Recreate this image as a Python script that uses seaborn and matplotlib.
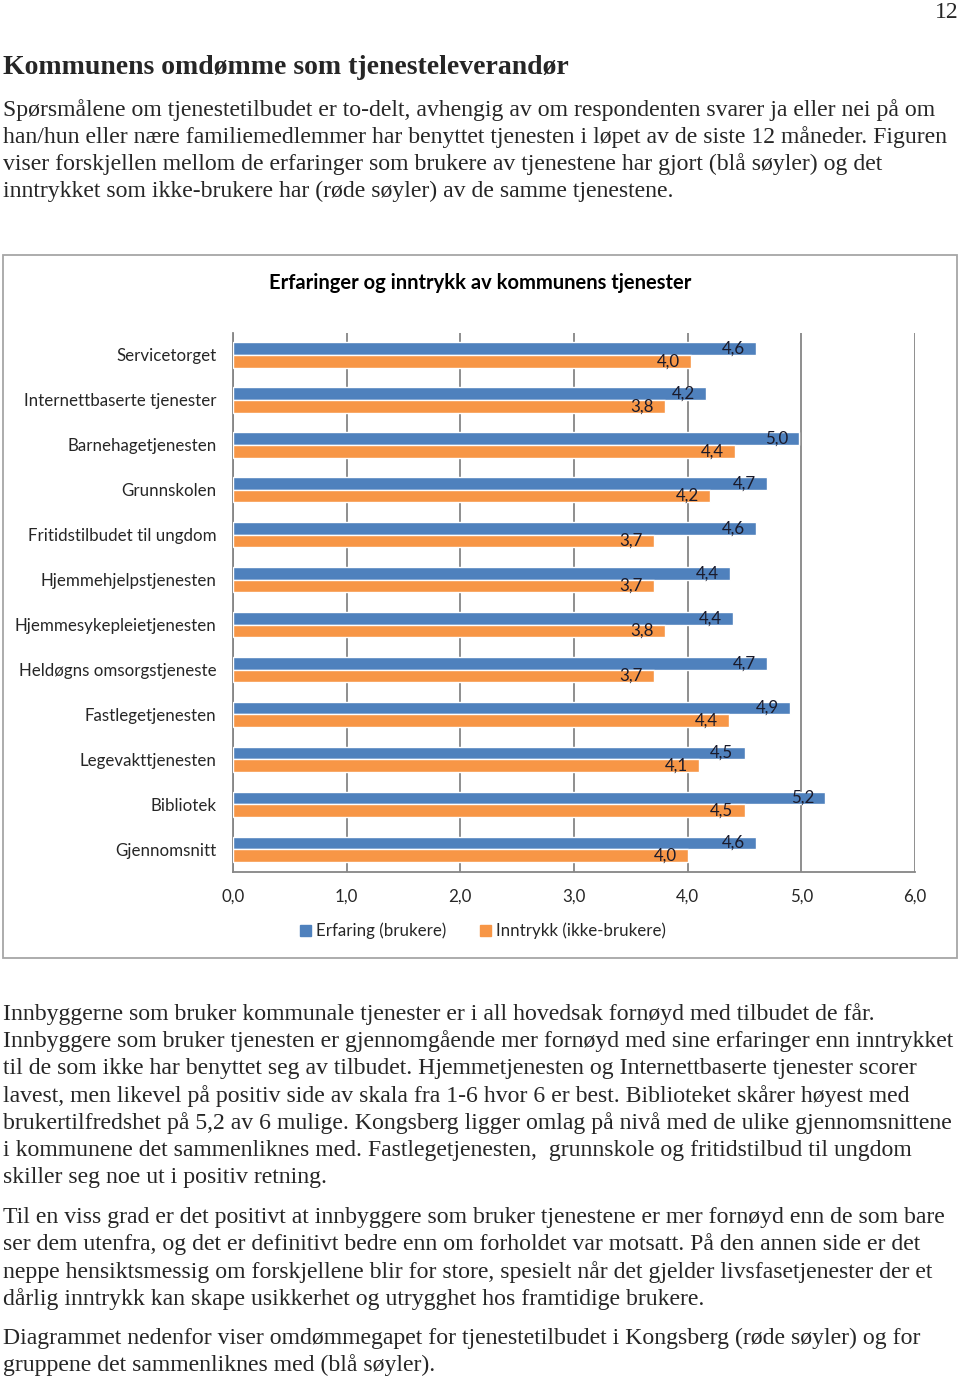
import numpy as np
import pandas as pd
import matplotlib.pyplot as plt
import seaborn as sns
from matplotlib.patches import Rectangle, Patch

# Data
tjenester = ["Servicetorget", "Internettbaserte tjenester", "Barnehagetjenesten",
             "Grunnskolen", "Fritidstilbudet til ungdom", "Hjemmehjelpstjenesten",
             "Hjemmesykepleietjenesten", "Heldøgns omsorgstjeneste", "Fastlegetjenesten",
             "Legevakttjenesten", "Bibliotek", "Gjennomsnitt"]
erfaring = [4.60, 4.16, 4.98, 4.70, 4.60, 4.37, 4.40, 4.70, 4.90, 4.50, 5.21, 4.60]
inntrykk = [4.03, 3.80, 4.42, 4.20, 3.70, 3.70, 3.80, 3.70, 4.36, 4.10, 4.50, 4.00]
serier = ["Erfaring (brukere)", "Inntrykk (ikke-brukere)"]
farger = ["#4F81BD", "#F79646"]
xticks = [0, 1, 2, 3, 4, 5, 6]

tittel = "Erfaringer og inntrykk av kommunens tjenester"
overskrift = "Kommunens omdømme som tjenesteleverandør"
tekst_topp = [
    "Spørsmålene om tjenestetilbudet er to-delt, avhengig av om respondenten svarer ja eller nei på om",
    "han/hun eller nære familiemedlemmer har benyttet tjenesten i løpet av de siste 12 måneder. Figuren",
    "viser forskjellen mellom de erfaringer som brukere av tjenestene har gjort (blå søyler) og det",
    "inntrykket som ikke-brukere har (røde søyler) av de samme tjenestene.",
]
tekst_bunn = [
    ["Innbyggerne som bruker kommunale tjenester er i all hovedsak fornøyd med tilbudet de får.",
     "Innbyggere som bruker tjenesten er gjennomgående mer fornøyd med sine erfaringer enn inntrykket",
     "til de som ikke har benyttet seg av tilbudet. Hjemmetjenesten og Internettbaserte tjenester scorer",
     "lavest, men likevel på positiv side av skala fra 1-6 hvor 6 er best. Biblioteket skårer høyest med",
     "brukertilfredshet på 5,2 av 6 mulige. Kongsberg ligger omlag på nivå med de ulike gjennomsnittene",
     "i kommunene det sammenliknes med. Fastlegetjenesten,  grunnskole og fritidstilbud til ungdom",
     "skiller seg noe ut i positiv retning."],
    ["Til en viss grad er det positivt at innbyggere som bruker tjenestene er mer fornøyd enn de som bare",
     "ser dem utenfra, og det er definitivt bedre enn om forholdet var motsatt. På den annen side er det",
     "neppe hensiktsmessig om forskjellene blir for store, spesielt når det gjelder livsfasetjenester der et",
     "dårlig inntrykk kan skape usikkerhet og utrygghet hos framtidige brukere."],
    ["Diagrammet nedenfor viser omdømmegapet for tjenestetilbudet i Kongsberg (røde søyler) og for",
     "gruppene det sammenliknes med (blå søyler)."],
]

df = pd.DataFrame({
    "tjeneste": tjenester * 2,
    "verdi": erfaring + inntrykk,
    "serie": [serier[0]] * len(tjenester) + [serier[1]] * len(tjenester),
})

sns.set_theme(style="white")
plt.rcParams["font.family"] = ["Lato", "DejaVu Sans"]

W, H = 960, 1379
fig = plt.figure(figsize=(W / 100, H / 100), dpi=100)

def fx(px):
    return px / W

def fy(py):
    return 1 - py / H

# chart frame
fig.patches.append(Rectangle((fx(3), fy(958)), fx(954), 703 / H, transform=fig.transFigure,
                             fill=False, edgecolor="#A6A6A6", linewidth=1.3))

ax = fig.add_axes([fx(233), fy(871.7), fx(682), 539.2 / H])
sns.barplot(data=df, y="tjeneste", x="verdi", hue="serie", palette=farger, orient="h",
            width=0.565, gap=0, saturation=1, legend=False, ax=ax, zorder=3)

ax.set_xlim(0, 6)
ax.set_ylim(len(tjenester) - 0.5, -0.5)
ax.set_xticks(xticks)
ax.set_xticklabels([f"{t:.1f}".replace(".", ",") for t in xticks], fontsize=12.2)
ax.set_yticks(np.arange(len(tjenester)))
ax.set_yticklabels(tjenester, fontsize=12.2)
ax.set_yticks(np.arange(len(tjenester) + 1) - 0.5, minor=True)
ax.tick_params(axis="y", which="major", length=0, pad=12)
ax.tick_params(axis="y", which="minor", length=5, width=1, color="#868686", direction="out")
ax.tick_params(axis="x", which="major", length=5, width=1, color="#868686", direction="out", pad=7)
ax.set_xlabel("")
ax.set_ylabel("")
ax.grid(axis="x", color="#868686", linewidth=1.3, zorder=0)
ax.set_axisbelow(True)
for side in ["top", "right"]:
    ax.spines[side].set_visible(False)
for side in ["left", "bottom"]:
    ax.spines[side].set_color("#868686")
    ax.spines[side].set_linewidth(1.3)

for cont, vals in zip(ax.containers, [erfaring, inntrykk]):
    txts = ax.bar_label(cont, labels=[f"{v:.1f}".replace(".", ",") for v in vals],
                        padding=-8, fontsize=12.2, color="#1a1a2a")
    for t in txts:
        t.set_ha("right")

fig.text(0.5, fy(283), tittel, ha="center", va="center", fontsize=14.5, fontweight="bold",
         color="black")

fig.legend(handles=[Patch(color=c) for c in farger], labels=serier, loc="center",
           bbox_to_anchor=(fx(483), fy(931)), ncol=2, frameon=False, fontsize=12.2,
           handlelength=0.65, handleheight=0.65, handletextpad=0.3, columnspacing=2.0)

# page text
serif = ["Liberation Serif", "DejaVu Serif"]
fig.text(fx(947), fy(12), "12", ha="center", va="center", fontsize=17, family=serif)
fig.text(fx(3), fy(68), overskrift, ha="left", va="center", fontsize=20, fontweight="bold",
         family=serif)
for i, linje in enumerate(tekst_topp):
    fig.text(fx(3), fy(110 + 27.2 * i), linje, ha="left", va="center", fontsize=17.1, family=serif)

starter = [1014, 1217, 1338]
for start, avsnitt in zip(starter, tekst_bunn):
    for i, linje in enumerate(avsnitt):
        fig.text(fx(3), fy(start + 27.3 * i), linje, ha="left", va="center", fontsize=17.1,
                 family=serif)

fig.savefig("out.png", dpi=100)
